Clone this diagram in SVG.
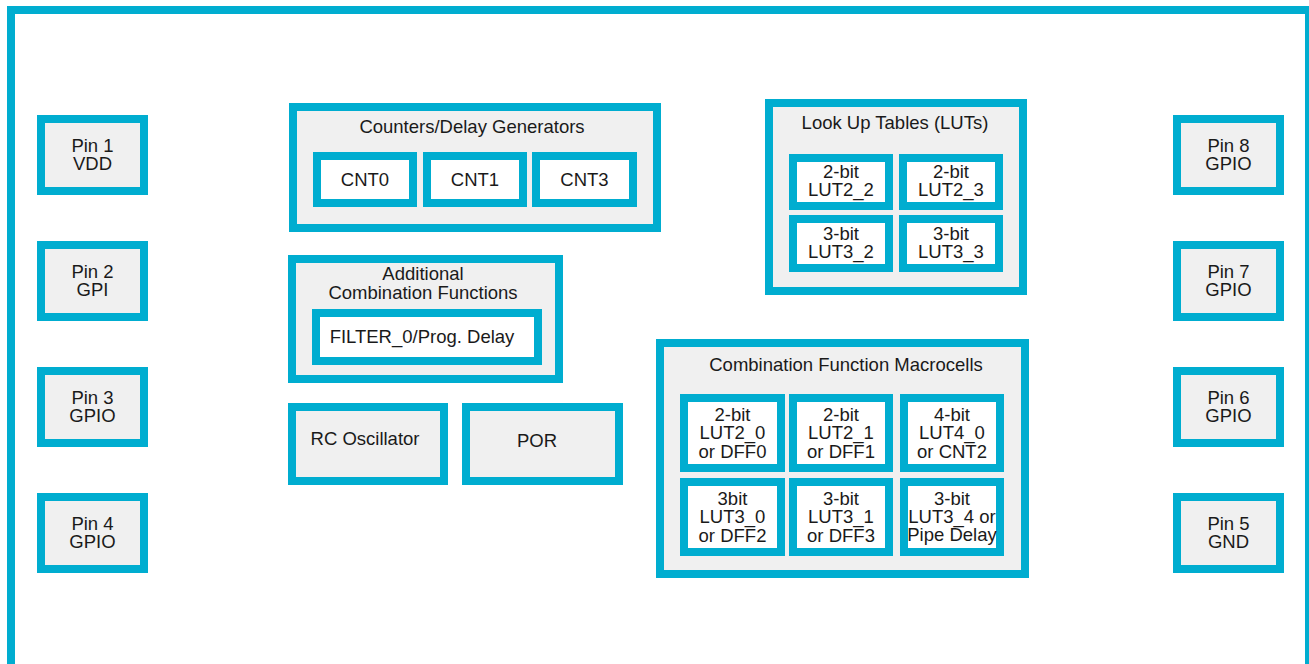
<svg xmlns="http://www.w3.org/2000/svg" width="1309" height="664" viewBox="0 0 1309 664">
<style>
.frame{fill:#ffffff;stroke:#00ADD0;stroke-width:8}
.box{fill:#F0F0F0;stroke:#00ADD0;stroke-width:8}
.cell{fill:#ffffff;stroke:#00ADD0;stroke-width:8}
text{font-family:"Liberation Sans",Arial,sans-serif;font-size:18.5px;fill:#1a1a1a;text-anchor:middle}
</style>
<rect width="1309" height="664" fill="#ffffff"/>
<rect id="frame" class="frame" x="11" y="10" width="1298" height="700"/>

<g id="pin1"><rect class="box" x="41" y="119" width="103" height="72"/><text x="92.5" y="152">Pin 1</text><text x="92.5" y="170">VDD</text></g>
<g id="pin2"><rect class="box" x="41" y="245" width="103" height="72"/><text x="92.5" y="278">Pin 2</text><text x="92.5" y="296">GPI</text></g>
<g id="pin3"><rect class="box" x="41" y="371" width="103" height="72"/><text x="92.5" y="404">Pin 3</text><text x="92.5" y="422">GPIO</text></g>
<g id="pin4"><rect class="box" x="41" y="497" width="103" height="72"/><text x="92.5" y="530">Pin 4</text><text x="92.5" y="548">GPIO</text></g>

<g id="pin8"><rect class="box" x="1177" y="119" width="103" height="72"/><text x="1228.5" y="152">Pin 8</text><text x="1228.5" y="170">GPIO</text></g>
<g id="pin7"><rect class="box" x="1177" y="245" width="103" height="72"/><text x="1228.5" y="278">Pin 7</text><text x="1228.5" y="296">GPIO</text></g>
<g id="pin6"><rect class="box" x="1177" y="371" width="103" height="72"/><text x="1228.5" y="404">Pin 6</text><text x="1228.5" y="422">GPIO</text></g>
<g id="pin5"><rect class="box" x="1177" y="497" width="103" height="72"/><text x="1228.5" y="530">Pin 5</text><text x="1228.5" y="548">GND</text></g>

<g id="counters">
<rect class="box" x="293" y="107" width="364" height="121"/>
<text x="472" y="133">Counters/Delay Generators</text>
<g id="cnt0"><rect class="cell" x="317" y="156" width="96" height="47"/><text x="365" y="186">CNT0</text></g>
<g id="cnt1"><rect class="cell" x="427" y="156" width="96" height="47"/><text x="475" y="186">CNT1</text></g>
<g id="cnt3"><rect class="cell" x="536" y="156" width="97" height="47"/><text x="584.5" y="186">CNT3</text></g>
</g>

<g id="additional">
<rect class="box" x="292" y="259" width="267" height="120"/>
<text x="423" y="280">Additional</text>
<text x="423" y="299">Combination Functions</text>
<g id="filter0"><rect class="cell" x="316" y="313" width="222" height="48"/><text x="422" y="343">FILTER_0/Prog. Delay</text></g>
</g>

<g id="rcosc"><rect class="box" x="292" y="407" width="152" height="74"/><text x="365" y="445">RC Oscillator</text></g>
<g id="por"><rect class="box" x="466" y="407" width="153" height="74"/><text x="537" y="447">POR</text></g>

<g id="luts">
<rect class="box" x="769" y="103" width="254" height="188"/>
<text x="895" y="129">Look Up Tables (LUTs)</text>
<g id="lut2_2"><rect class="cell" x="793" y="158" width="96" height="48"/><text x="841" y="178">2-bit</text><text x="841" y="196">LUT2_2</text></g>
<g id="lut2_3"><rect class="cell" x="903" y="158" width="96" height="48"/><text x="951" y="178">2-bit</text><text x="951" y="196">LUT2_3</text></g>
<g id="lut3_2"><rect class="cell" x="793" y="219" width="96" height="49"/><text x="841" y="240">3-bit</text><text x="841" y="258">LUT3_2</text></g>
<g id="lut3_3"><rect class="cell" x="903" y="219" width="96" height="49"/><text x="951" y="240">3-bit</text><text x="951" y="258">LUT3_3</text></g>
</g>

<g id="macrocells">
<rect class="box" x="660" y="343" width="365" height="231"/>
<text x="846" y="371">Combination Function Macrocells</text>
<g id="lut2_0"><rect class="cell" x="684" y="398" width="97" height="70"/><text x="732.5" y="421">2-bit</text><text x="732.5" y="439">LUT2_0</text><text x="732.5" y="458">or DFF0</text></g>
<g id="lut2_1"><rect class="cell" x="793" y="398" width="96" height="70"/><text x="841" y="421">2-bit</text><text x="841" y="439">LUT2_1</text><text x="841" y="458">or DFF1</text></g>
<g id="lut4_0"><rect class="cell" x="904" y="398" width="96" height="70"/><text x="952" y="421">4-bit</text><text x="952" y="439">LUT4_0</text><text x="952" y="458">or CNT2</text></g>
<g id="lut3_0"><rect class="cell" x="684" y="482" width="97" height="70"/><text x="732.5" y="505">3bit</text><text x="732.5" y="523">LUT3_0</text><text x="732.5" y="542">or DFF2</text></g>
<g id="lut3_1"><rect class="cell" x="793" y="482" width="96" height="70"/><text x="841" y="505">3-bit</text><text x="841" y="523">LUT3_1</text><text x="841" y="542">or DFF3</text></g>
<g id="lut3_4"><rect class="cell" x="904" y="482" width="96" height="70"/><text x="952" y="505">3-bit</text><text x="952" y="523">LUT3_4 or</text><text x="952" y="541">Pipe Delay</text></g>
</g>
<g id="connectors"/>
</svg>
